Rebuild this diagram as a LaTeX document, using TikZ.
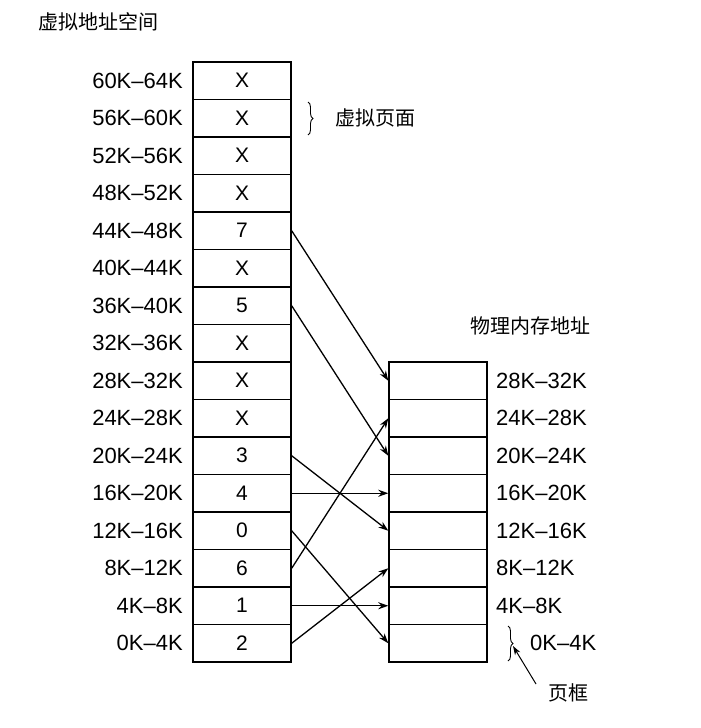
\documentclass[tikz,border=0pt]{standalone}
\usepackage{fontspec}
\setmainfont{Liberation Sans}
\newfontfamily\cjk{Noto Sans CJK SC}
\usetikzlibrary{arrows.meta,decorations.pathreplacing}
\begin{document}
\begin{tikzpicture}[x=1pt,y=-1pt,
  cell/.style={draw,line width=1.4pt,minimum width=98pt,minimum height=37.5pt,inner sep=0pt,font=\fontsize{21}{24}\selectfont},
  lab/.style={font=\fontsize{22}{25}\selectfont,inner sep=0pt},
  cjkl/.style={font=\cjk\fontsize{20}{23}\selectfont,inner sep=0pt},
  arr/.style={-{Stealth[length=10pt,width=7pt]},line width=1.3pt}]
\useasboundingbox (0,0) rectangle (701,728);
\def\vals{{"2","1","6","0","4","3","X","X","X","5","X","7","X","X","X","X"}}
\foreach \i in {0,...,15}{
  \pgfmathsetmacro\v{\vals[\i]}
  \pgfmathtruncatemacro\lo{4*\i}\pgfmathtruncatemacro\hi{4*\i+4}
  \node[cell] (v\i) at (242,{662-(\i+0.5)*37.5}) {\v};
  \node[lab,anchor=east] (vl\i) at (183,{662-(\i+0.5)*37.5}) {\lo K–\hi K};
}
\foreach \i in {0,...,7}{
  \pgfmathtruncatemacro\lo{4*\i}\pgfmathtruncatemacro\hi{4*\i+4}
  \node[cell] (p\i) at (438,{662-(\i+0.5)*37.5}) {};
}
\foreach \i in {1,...,7}{
  \pgfmathtruncatemacro\lo{4*\i}\pgfmathtruncatemacro\hi{4*\i+4}
  \node[lab,anchor=west] (pl\i) at (496,{662-(\i+0.5)*37.5}) {\lo K–\hi K};
}
\node[lab,anchor=west] (pl0) at (530,643) {0K–4K};
\node[cjkl,anchor=west] (t1) at (38,22) {虚拟地址空间};
\node[cjkl,anchor=west] (t2) at (470,326) {物理内存地址};
\node[cjkl,anchor=west] (t3) at (335,118) {虚拟页面};
\node[cjkl] (t4) at (568,693) {页框};
\draw[line width=0.9pt,decorate,decoration={brace,amplitude=5pt}] (308,102) -- (308,135);
\draw[line width=0.9pt,decorate,decoration={brace,amplitude=5pt}] (508,626) -- (508,661);
\coordinate (bt) at (513,646);
\coordinate (bs) at (536,684);
\draw[line width=1pt,-{Stealth[length=9pt,width=6pt]}] (bs) -- (bt);
\foreach \a/\b in {11/7,9/5,5/3,4/4,3/0,2/6,1/1,0/2}{
  \draw[arr] (v\a.east) -- (p\b.west);
}
\end{tikzpicture}
\end{document}
